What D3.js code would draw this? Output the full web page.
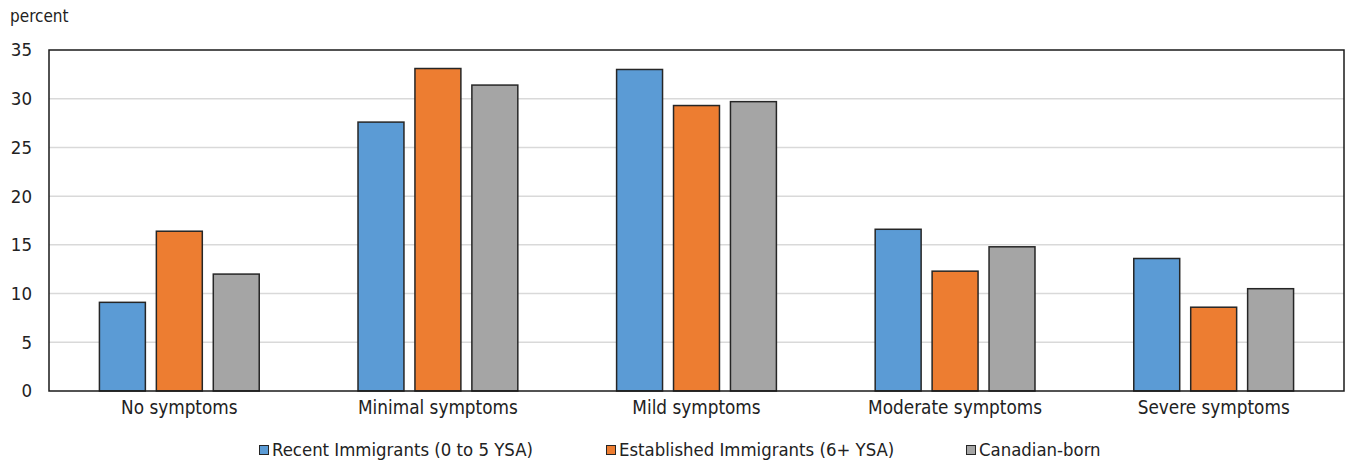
<!DOCTYPE html>
<html><head><meta charset="utf-8">
<script src="https://cdn.jsdelivr.net/npm/d3@7"></script>
<style>
body{margin:0;background:#fff;}
text{font-family:"Liberation Sans Narrow","Arial Narrow","DejaVu Sans Condensed",sans-serif;fill:#222;}
</style></head>
<body><svg id="c" width="1349" height="461"></svg>
<script>
const categories = ["No symptoms","Minimal symptoms","Mild symptoms","Moderate symptoms","Severe symptoms"];
const seriesNames = ["Recent Immigrants (0 to 5 YSA)","Established Immigrants (6+ YSA)","Canadian-born"];
const recent = [9.1, 27.6, 33.0, 16.6, 13.6];
const established = [16.4, 33.1, 29.3, 12.3, 8.6];
const canadian = [12.0, 31.4, 29.7, 14.8, 10.5];
const yTicks = [0,5,10,15,20,25,30,35];
const colors = ["#5b9bd5","#ed7d31","#a5a5a5"];

const seriesVals = [recent, established, canadian];
const svg = d3.select("#c");
const m = {l:49, r:1344, t:50, b:391};

const x0 = d3.scaleBand().domain(categories).range([m.l, m.r]).paddingInner(0.382).paddingOuter(0.195);
const x1 = d3.scaleBand().domain(d3.range(3)).range([0, x0.bandwidth()]).paddingInner(0.193).paddingOuter(0);
const y = d3.scaleLinear().domain([0,35]).range([m.b, m.t]);

// gridlines
svg.append("g").selectAll("line").data(yTicks.filter(d=>d>0 && d<35)).join("line")
  .attr("x1", m.l).attr("x2", m.r).attr("y1", d=>y(d)).attr("y2", d=>y(d))
  .attr("stroke", "#d9d9d9").attr("stroke-width", 1.5);

// y tick labels
const yAxis = d3.axisLeft(y).tickValues(yTicks).tickSize(0).tickPadding(17);
const gy = svg.append("g").attr("transform", `translate(${m.l},0)`).call(yAxis);
gy.select(".domain").remove();
gy.selectAll("text").attr("font-size", 18.5).style("font-family", null).attr("fill", "#222");

svg.append("text").attr("x", 10).attr("y", 22).attr("font-size", 17).text("percent");

// bars
const groups = svg.append("g").selectAll("g").data(categories).join("g")
  .attr("transform", d=>`translate(${x0(d)},0)`);
groups.selectAll("rect").data((d,i)=>seriesVals.map((s,k)=>({k, v:s[i]}))).join("rect")
  .attr("x", d=>x1(d.k)).attr("width", x1.bandwidth())
  .attr("y", d=>y(d.v)).attr("height", d=>y(0)-y(d.v))
  .attr("fill", d=>colors[d.k]).attr("stroke", "#262626").attr("stroke-width", 1.5);

// frame
svg.append("rect").attr("x", m.l).attr("y", m.t).attr("width", m.r-m.l).attr("height", m.b-m.t)
  .attr("fill", "none").attr("stroke", "#1a1a1a").attr("stroke-width", 1.5);

// x axis labels
const xAxis = d3.axisBottom(x0).tickSize(0).tickPadding(10);
const gx = svg.append("g").attr("transform", `translate(0,${m.b})`).call(xAxis);
gx.select(".domain").remove();
gx.selectAll("text").attr("font-size", 18.8).style("font-family", null).attr("fill", "#222");

// legend
const legX = [259, 606, 966];
const leg = svg.append("g").selectAll("g").data(seriesNames).join("g")
  .attr("transform", (d,i)=>`translate(${legX[i]},0)`);
leg.append("rect").attr("x", 0.5).attr("y", 445.5).attr("width", 9).attr("height", 9)
  .attr("fill", (d,i)=>colors[i]).attr("stroke", "#262626").attr("stroke-width", 1);
leg.append("text").attr("x", 13).attr("y", 456).attr("font-size", 18.4).text(d=>d);
</script></body></html>
